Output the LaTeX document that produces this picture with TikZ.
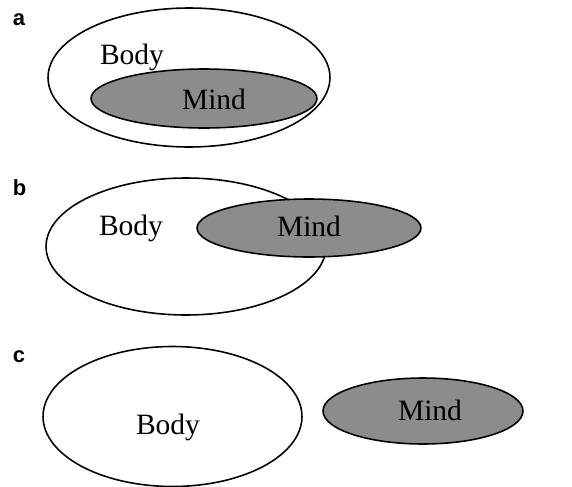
\documentclass[tikz,border=0pt]{standalone}
\usepackage{fontspec}
\setmainfont{Liberation Serif}
\newfontfamily\labfont{Liberation Sans}
\usetikzlibrary{shapes.geometric}
\usetikzlibrary{positioning}
\definecolor{mindgray}{RGB}{140,140,140}

\begin{document}
\begin{tikzpicture}[x=0.02cm, y=-0.02cm, line width=0.9pt,
	body/.style={draw,shape=ellipse,fill=white,inner sep=0pt},
	mind/.style={draw,shape=ellipse,fill=mindgray,inner sep=0pt},
	word/.style={anchor=base,font=\fontsize{16.8}{20}\selectfont,inner sep=0pt},
	panel/.style={anchor=base west,font=\labfont\bfseries\fontsize{12.5}{14}\selectfont,inner sep=0pt}]
	\useasboundingbox (0,0) rectangle (572,487);
	% a
	\node[panel] (la) at (12, 25) {a};
	\node[body, minimum width=5.64cm, minimum height=2.78cm] (bodyA) at (189, 77.5) {};
	\node[mind, minimum width=4.52cm, minimum height=1.18cm] (mindA) at (204, 98.5) {};
	\node[word] (tbodyA) at (132, 64) {Body};
	\node[word] (tmindA) at (214, 109) {Mind};
	% b
	\node[panel] (lb) at (12, 195) {b};
	\node[body, minimum width=5.6cm, minimum height=2.74cm] (bodyB) at (186, 246.5) {};
	\node[mind, minimum width=4.48cm, minimum height=1.16cm] (mindB) at (309, 228) {};
	\node[word] (tbodyB) at (131, 235) {Body};
	\node[word] (tmindB) at (309, 236) {Mind};
	% c
	\node[panel] (lc) at (12, 362) {c};
	\node[body, minimum width=5.18cm, minimum height=2.8cm] (bodyC) at (172.5, 416.5) {};
	\node[mind, minimum width=4cm, minimum height=1.32cm] (mindC) at (423, 411) {};
	\node[word] (tbodyC) at (168, 434) {Body};
	\node[word] (tmindC) at (430, 420) {Mind};
\end{tikzpicture}
\end{document}
